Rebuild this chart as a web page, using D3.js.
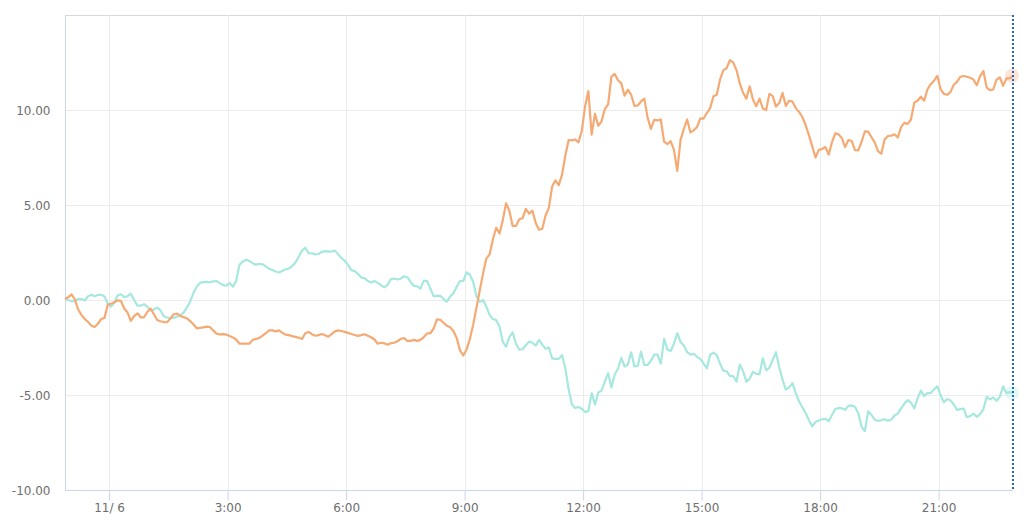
<!DOCTYPE html>
<html><head><meta charset="utf-8">
<script src="https://cdn.jsdelivr.net/npm/d3@7/dist/d3.min.js"></script>
<style>html,body{margin:0;padding:0;background:#fff;}svg{display:block;}</style>
</head><body>
<svg id="chart" width="1024" height="529"></svg>
<script>
// ---- data ----
const startTime = [2023, 10, 5, 22, 53]; // first sample (Nov 5, 22:53)
const stepMinutes = 5;
const seriesA = [ // orange
0.05,0.15,0.3,0.02,-0.5,-0.78,-1.0,-1.15,-1.35,-1.42,
-1.25,-1.0,-0.94,-0.25,-0.2,-0.12,-0.02,-0.05,-0.45,-0.66,
-1.1,-0.85,-0.7,-0.91,-0.91,-0.63,-0.45,-0.75,-1.05,-1.12,
-1.16,-1.17,-0.98,-0.75,-0.72,-0.84,-0.9,-0.96,-1.1,-1.28,
-1.49,-1.47,-1.44,-1.4,-1.42,-1.6,-1.77,-1.81,-1.8,-1.82,
-1.9,-1.97,-2.08,-2.3,-2.3,-2.3,-2.3,-2.1,-2.05,-2.0,
-1.88,-1.75,-1.6,-1.6,-1.65,-1.6,-1.72,-1.82,-1.85,-1.9,
-1.94,-1.99,-2.05,-1.75,-1.68,-1.8,-1.88,-1.85,-1.79,-1.86,
-1.93,-1.8,-1.65,-1.6,-1.63,-1.68,-1.73,-1.79,-1.84,-1.89,
-1.85,-1.8,-1.88,-1.96,-2.08,-2.3,-2.25,-2.28,-2.35,-2.27,
-2.25,-2.17,-2.05,-2.0,-2.15,-2.15,-2.1,-2.15,-2.1,-1.95,
-1.76,-1.75,-1.5,-1.02,-1.04,-1.2,-1.36,-1.44,-1.63,-2.0,
-2.65,-2.92,-2.6,-2.05,-1.3,-0.4,0.5,1.4,2.18,2.4,
3.2,3.8,3.5,4.2,5.09,4.7,3.9,3.9,4.25,4.3,
4.8,4.55,4.7,4.05,3.7,3.75,4.45,4.85,5.98,6.3,
6.05,6.6,7.6,8.42,8.4,8.45,8.3,8.9,10.2,11.0,
8.7,9.8,9.17,9.4,10.05,10.3,11.75,11.9,11.57,11.4,
10.75,11.07,10.8,10.21,10.24,10.45,10.6,9.6,9.0,9.48,
9.45,9.5,8.33,8.2,8.36,7.9,6.8,8.43,9.0,9.5,
8.82,8.93,9.1,9.56,9.55,9.84,10.1,10.72,10.8,11.6,
12.1,12.2,12.62,12.5,12.1,11.4,10.9,10.6,11.25,10.55,
10.2,10.6,10.08,10.0,10.85,10.73,10.18,10.37,10.9,10.21,
10.49,10.44,10.1,9.9,9.63,9.2,8.68,8.1,7.5,7.9,
7.95,8.05,7.65,8.3,8.77,8.72,8.52,8.05,8.42,8.37,
7.89,7.87,8.33,8.87,8.86,8.57,8.29,7.82,7.7,8.45,
8.63,8.65,8.72,8.55,9.1,9.32,9.27,9.5,10.39,10.49,
10.7,10.49,11.08,11.36,11.54,11.8,11.1,10.85,10.8,10.94,
11.33,11.48,11.75,11.79,11.75,11.7,11.6,11.3,11.78,12.05,
11.18,11.05,11.08,11.6,11.72,11.27,11.66,11.67,11.8
];
const seriesB = [ // teal
0.05,0.0,-0.07,-0.05,0.05,0.06,-0.03,0.2,0.28,0.2,
0.27,0.27,0.19,-0.2,-0.35,-0.15,0.25,0.3,0.15,0.2,
0.33,0.0,-0.3,-0.3,-0.22,-0.35,-0.55,-0.5,-0.4,-0.55,
-0.85,-0.92,-0.95,-0.94,-0.88,-0.8,-0.68,-0.4,-0.09,0.35,
0.7,0.9,0.94,0.95,0.92,0.98,1.0,0.89,0.78,0.75,
0.9,0.7,1.0,1.85,2.02,2.12,2.05,1.94,1.86,1.9,
1.88,1.77,1.65,1.58,1.5,1.45,1.53,1.62,1.65,1.78,
1.97,2.28,2.6,2.75,2.46,2.46,2.4,2.42,2.53,2.57,
2.55,2.56,2.6,2.4,2.2,2.06,1.85,1.57,1.52,1.38,
1.18,1.15,1.0,0.92,1.0,0.9,0.78,0.66,0.8,1.1,
1.13,1.08,1.12,1.25,1.2,0.95,0.74,0.72,0.6,1.02,
1.0,0.6,0.19,0.23,0.22,0.05,-0.1,0.18,0.36,0.7,
1.0,1.0,1.45,1.34,0.95,0.2,-0.1,0.0,-0.35,-0.78,
-1.0,-1.06,-1.4,-2.2,-2.45,-1.95,-1.7,-2.3,-2.62,-2.59,
-2.38,-2.19,-2.25,-2.4,-2.1,-2.35,-2.57,-2.5,-3.07,-3.1,
-3.1,-2.9,-3.6,-4.7,-5.5,-5.68,-5.63,-5.72,-5.9,-5.85,
-4.9,-5.5,-4.87,-4.77,-4.3,-3.85,-4.6,-3.92,-3.62,-3.05,
-3.5,-3.4,-2.75,-3.5,-3.47,-2.72,-3.42,-3.42,-3.2,-2.88,
-2.88,-3.35,-2.05,-2.6,-2.68,-2.3,-1.75,-2.21,-2.4,-2.74,
-2.88,-2.83,-2.99,-3.1,-3.35,-3.6,-2.88,-2.77,-2.9,-3.35,
-3.72,-3.75,-4.0,-4.0,-4.3,-3.4,-3.75,-4.3,-4.15,-3.78,
-3.89,-3.9,-3.07,-3.7,-3.56,-3.15,-2.75,-3.55,-4.2,-4.72,
-4.6,-4.38,-4.9,-5.33,-5.65,-5.95,-6.33,-6.65,-6.42,-6.34,
-6.28,-6.25,-6.38,-6.05,-5.74,-5.68,-5.7,-5.78,-5.57,-5.55,
-5.62,-5.96,-6.67,-6.9,-5.85,-6.05,-6.3,-6.36,-6.33,-6.27,
-6.35,-6.3,-6.08,-5.98,-5.7,-5.45,-5.27,-5.4,-5.7,-5.18,
-4.77,-5.05,-4.9,-4.9,-4.7,-4.55,-5.0,-5.38,-5.22,-5.28,
-5.5,-5.78,-5.74,-5.72,-6.17,-6.1,-5.98,-6.15,-6.0,-5.75,
-5.1,-5.23,-5.13,-5.3,-5.09,-4.55,-4.9,-4.85,-4.9
];
const yTicks = [-10, -5, 0, 5, 10, 15];
const xTickHours = [[11, 6, 0], [11, 6, 3], [11, 6, 6], [11, 6, 9], [11, 6, 12], [11, 6, 15], [11, 6, 18], [11, 6, 21]];
const xTickLabels = ["11/ 6", "3:00", "6:00", "9:00", "12:00", "15:00", "18:00", "21:00"];

// ---- chart ----
const svg = d3.select("#chart");
const m = {left: 65, right: 1013, top: 15, bottom: 490};
const t0 = new Date(startTime[0], startTime[1], startTime[2], startTime[3], startTime[4]);
const times = d3.range(seriesA.length).map(i => new Date(t0.getTime() + i * stepMinutes * 60000));
const tEnd = new Date(t0.getTime() + 24 * 3600 * 1000);

const x = d3.scaleTime().domain([t0, tEnd]).range([m.left, m.right]);
const y = d3.scaleLinear().domain([-10, 15]).range([m.bottom, m.top]);
const tickDates = xTickHours.map(d => new Date(2023, d[0] - 1, d[1], d[2], 0));

const font = "'DejaVu Sans', Verdana, sans-serif";

// horizontal grid
svg.append("g").selectAll("line").data(yTicks.filter(v => v !== -10)).join("line")
  .attr("x1", m.left).attr("x2", m.right)
  .attr("y1", d => Math.round(y(d)) + 0.5).attr("y2", d => Math.round(y(d)) + 0.5)
  .attr("stroke", d => d === 15 ? "#d8d8d8" : "#ececec").attr("stroke-width", 1);

// vertical grid
svg.append("g").selectAll("line").data(tickDates).join("line")
  .attr("x1", d => Math.round(x(d)) + 0.5).attr("x2", d => Math.round(x(d)) + 0.5)
  .attr("y1", m.top).attr("y2", m.bottom)
  .attr("stroke", "#ececec").attr("stroke-width", 1);

// y axis
const yAxis = d3.axisLeft(y).tickValues(yTicks.filter(v => v !== 15))
  .tickFormat(d3.format(".2f")).tickSize(0).tickPadding(15);
const gy = svg.append("g").attr("transform", `translate(${m.left + 0.5},1)`).call(yAxis);
gy.select(".domain").attr("stroke", "#ccd6eb").attr("d", `M0,${m.top - 1}V${m.bottom - 1}`);
gy.selectAll("text").attr("fill", "#6e6e6e").style("font-family", font).style("font-size", "12px")
  .text(d => d3.format(".2f")(d).replace("−", "-"));

// x axis
const xAxis = d3.axisBottom(x).tickValues(tickDates)
  .tickFormat((d, i) => xTickLabels[i]).tickSize(10).tickPadding(3).tickSizeOuter(0);
const gx = svg.append("g").attr("transform", `translate(0,${m.bottom + 0.5})`).call(xAxis);
gx.select(".domain").attr("stroke", "#ccd6eb").attr("d", `M${m.left},0H${m.right}`);
gx.selectAll(".tick line").attr("stroke", "#ccd6eb");
gx.selectAll("text").attr("fill", "#6e6e6e").style("font-family", font).style("font-size", "12px");

// lines
const line = d3.line().x((d, i) => x(times[i])).y(d => y(d));
const colA = "#f5aa74", colB = "#a6e8df";
svg.append("path").datum(seriesB).attr("fill", "none").attr("stroke", colB)
  .attr("stroke-width", 2.2).attr("stroke-linejoin", "round").attr("d", line);
svg.append("path").datum(seriesA).attr("fill", "none").attr("stroke", colA)
  .attr("stroke-width", 2.2).attr("stroke-linejoin", "round").attr("d", line);

// hover halos at the last point
const last = seriesA.length - 1;
[[seriesA, colA], [seriesB, colB]].forEach(([s, c]) => {
  svg.append("circle").attr("cx", x(times[last]) - 1).attr("cy", y(s[last]))
    .attr("r", 7).attr("fill", c).attr("opacity", 0.3);
});

// crosshair dotted line
svg.append("line").attr("x1", x(times[last])).attr("x2", x(times[last]))
  .attr("y1", m.top).attr("y2", m.bottom)
  .attr("stroke", "#2a64c8").attr("stroke-width", 2).attr("stroke-dasharray", "2,2");
</script>
</body></html>
